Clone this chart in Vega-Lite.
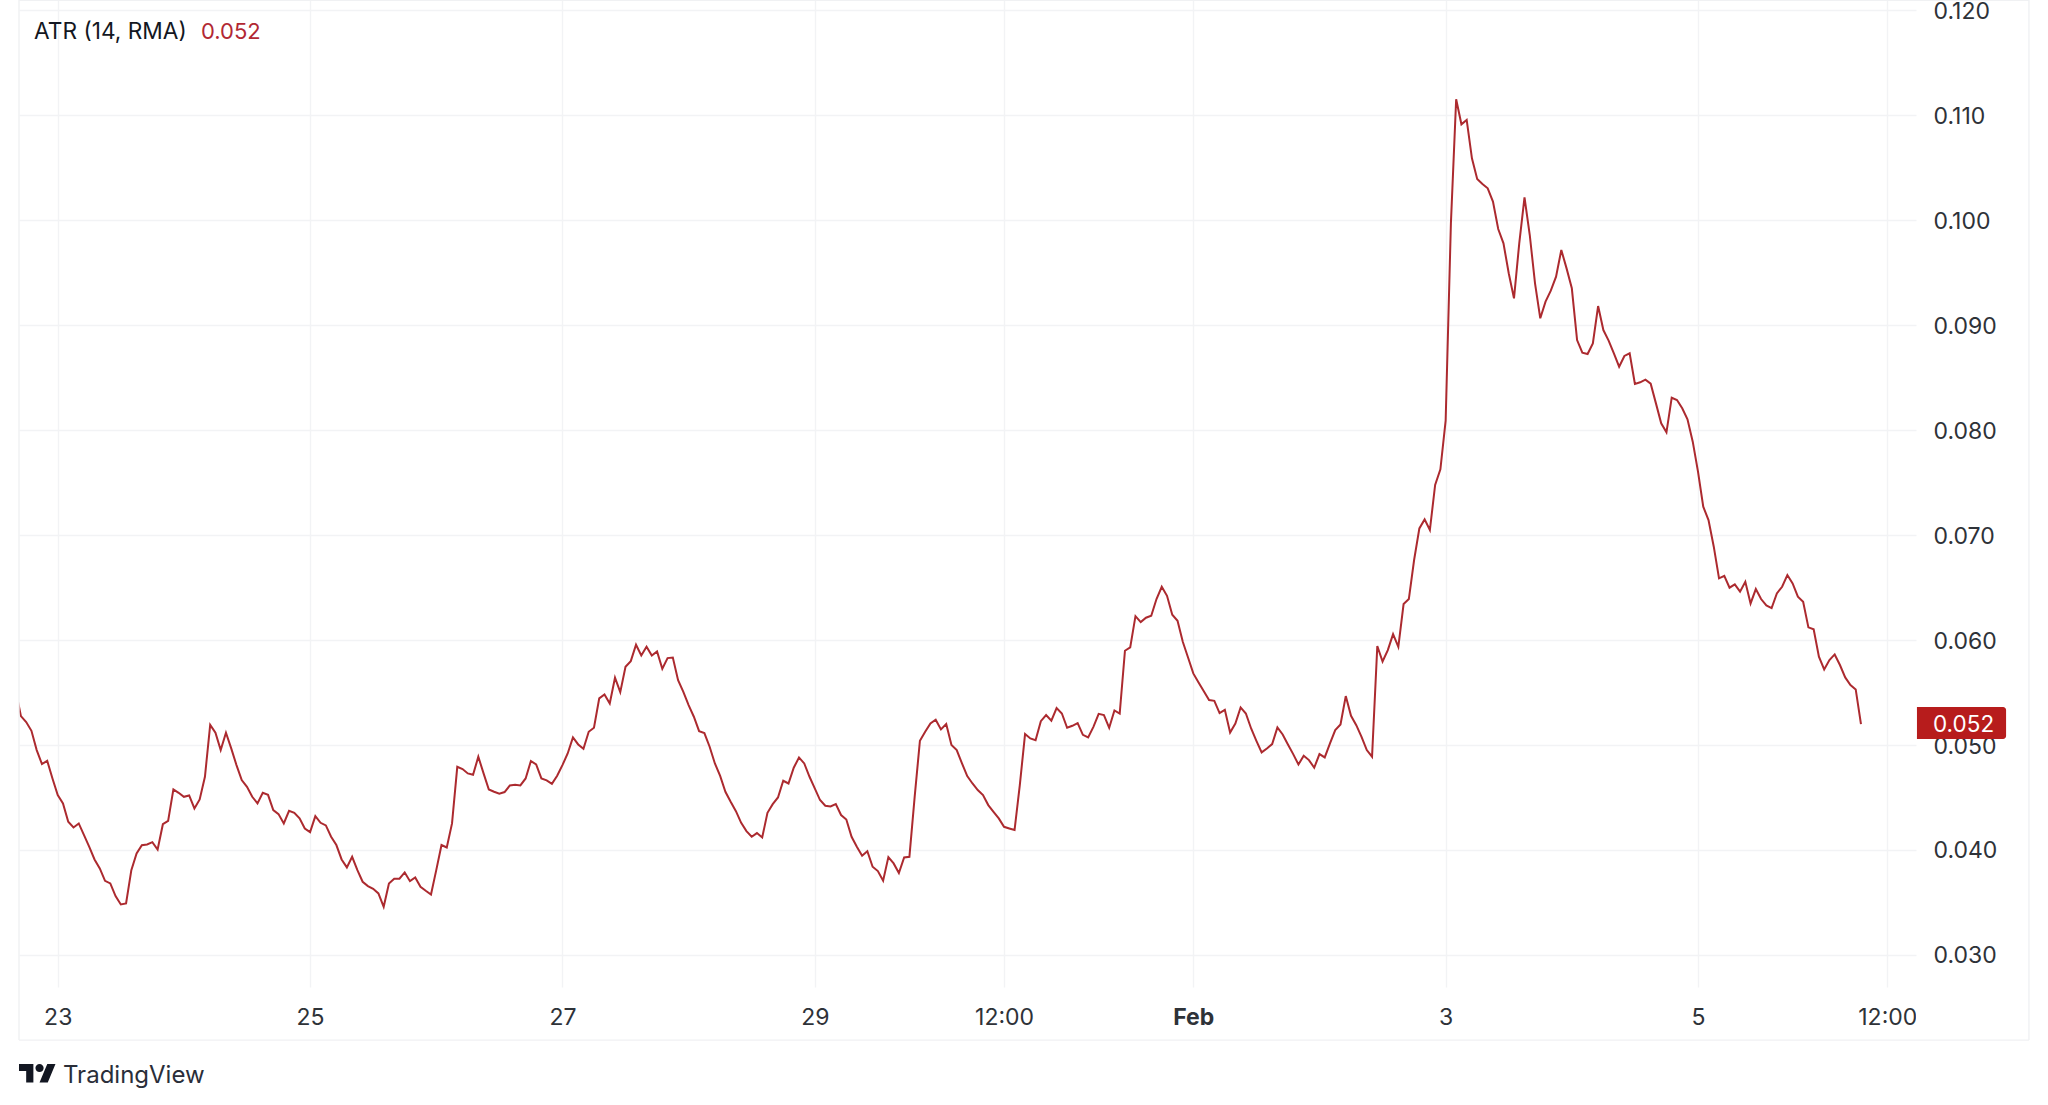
{
  "$schema": "https://vega.github.io/schema/vega-lite/v6.json",
  "autosize": "none",
  "padding": {"left": 19, "top": 0, "right": 132, "bottom": 118},
  "width": 1897,
  "height": 987,
  "background": "#ffffff",
  "config": {"view": {"stroke": null}, "font": "Inter"},
  "encoding": {
    "x": {
      "field": "t",
      "type": "temporal",
      "title": null,
      "scale": {"type": "utc", "domain": ["2024-01-22T16:38Z", "2024-02-06T17:28Z"]},
      "axis": {
        "values": ["2024-01-23T00:00Z", "2024-01-25T00:00Z", "2024-01-27T00:00Z", "2024-01-29T00:00Z", "2024-01-30T12:00Z", "2024-02-01T00:00Z", "2024-02-03T00:00Z", "2024-02-05T00:00Z", "2024-02-06T12:00Z"],
        "labelExpr": "utchours(datum.value) == 12 ? '12:00' : utcdate(datum.value) == 1 ? 'Feb' : utcFormat(datum.value, '%-d')",
        "labelFontWeight": {"condition": {"test": "utcdate(datum.value) == 1", "value": 700}, "value": 400},
        "labelFont": "Inter",
        "labelFontSize": 23,
        "labelColor": "#2e3238",
        "labelPadding": 19,
        "labelOverlap": false,
        "labelBound": false,
        "labelFlush": false,
        "ticks": false,
        "domain": false,
        "grid": true,
        "gridColor": "#f2f3f5",
        "gridWidth": 1.4
      }
    },
    "y": {
      "field": "v",
      "type": "quantitative",
      "title": null,
      "scale": {"domain": [0.02691, 0.12099], "nice": false, "zero": false},
      "axis": {
        "orient": "right",
        "values": [0.03, 0.04, 0.05, 0.06, 0.07, 0.08, 0.09, 0.1, 0.11, 0.12],
        "format": ".3f",
        "labelFont": "Inter",
        "labelFontSize": 23,
        "labelColor": "#2e3238",
        "labelPadding": 17,
        "labelOffset": 1.3,
        "labelOverlap": false,
        "labelBound": false,
        "labelFlush": false,
        "ticks": false,
        "domain": false,
        "grid": true,
        "gridColor": "#f2f3f5",
        "gridWidth": 1.4
      }
    }
  },
  "layer": [
    {
      "data": {"values": [
        {"t":"2024-01-22T16:00Z","v":0.0552},{"t":"2024-01-22T17:00Z","v":0.05273},{"t":"2024-01-22T18:00Z","v":0.05216},{"t":"2024-01-22T19:00Z","v":0.05133},{"t":"2024-01-22T20:00Z","v":0.04949},{"t":"2024-01-22T21:00Z","v":0.04816},{"t":"2024-01-22T22:00Z","v":0.04847},{"t":"2024-01-22T23:00Z","v":0.04679},
        {"t":"2024-01-23T00:00Z","v":0.0452},{"t":"2024-01-23T01:00Z","v":0.04441},{"t":"2024-01-23T02:00Z","v":0.04266},{"t":"2024-01-23T03:00Z","v":0.04212},{"t":"2024-01-23T04:00Z","v":0.0425},{"t":"2024-01-23T05:00Z","v":0.04139},{"t":"2024-01-23T06:00Z","v":0.04027},{"t":"2024-01-23T07:00Z","v":0.03907},{"t":"2024-01-23T08:00Z","v":0.03821},{"t":"2024-01-23T09:00Z","v":0.03703},{"t":"2024-01-23T10:00Z","v":0.03678},{"t":"2024-01-23T11:00Z","v":0.03557},{"t":"2024-01-23T12:00Z","v":0.03478},{"t":"2024-01-23T13:00Z","v":0.03487},{"t":"2024-01-23T14:00Z","v":0.03805},{"t":"2024-01-23T15:00Z","v":0.03964},{"t":"2024-01-23T16:00Z","v":0.04043},{"t":"2024-01-23T17:00Z","v":0.0405},{"t":"2024-01-23T18:00Z","v":0.04072},{"t":"2024-01-23T19:00Z","v":0.04002},{"t":"2024-01-23T20:00Z","v":0.04243},{"t":"2024-01-23T21:00Z","v":0.04275},{"t":"2024-01-23T22:00Z","v":0.04574},{"t":"2024-01-23T23:00Z","v":0.04542},
        {"t":"2024-01-24T00:00Z","v":0.04504},{"t":"2024-01-24T01:00Z","v":0.04517},{"t":"2024-01-24T02:00Z","v":0.04393},{"t":"2024-01-24T03:00Z","v":0.04479},{"t":"2024-01-24T04:00Z","v":0.04695},{"t":"2024-01-24T05:00Z","v":0.0519},{"t":"2024-01-24T06:00Z","v":0.05114},{"t":"2024-01-24T07:00Z","v":0.04949},{"t":"2024-01-24T08:00Z","v":0.05114},{"t":"2024-01-24T09:00Z","v":0.04965},{"t":"2024-01-24T10:00Z","v":0.04806},{"t":"2024-01-24T11:00Z","v":0.04663},{"t":"2024-01-24T12:00Z","v":0.04599},{"t":"2024-01-24T13:00Z","v":0.04504},{"t":"2024-01-24T14:00Z","v":0.04441},{"t":"2024-01-24T15:00Z","v":0.04542},{"t":"2024-01-24T16:00Z","v":0.04523},{"t":"2024-01-24T17:00Z","v":0.04377},{"t":"2024-01-24T18:00Z","v":0.04339},{"t":"2024-01-24T19:00Z","v":0.0425},{"t":"2024-01-24T20:00Z","v":0.04371},{"t":"2024-01-24T21:00Z","v":0.04352},{"t":"2024-01-24T22:00Z","v":0.04298},{"t":"2024-01-24T23:00Z","v":0.04202},
        {"t":"2024-01-25T00:00Z","v":0.04167},{"t":"2024-01-25T01:00Z","v":0.0432},{"t":"2024-01-25T02:00Z","v":0.04256},{"t":"2024-01-25T03:00Z","v":0.04231},{"t":"2024-01-25T04:00Z","v":0.04123},{"t":"2024-01-25T05:00Z","v":0.04044},{"t":"2024-01-25T06:00Z","v":0.03907},{"t":"2024-01-25T07:00Z","v":0.03831},{"t":"2024-01-25T08:00Z","v":0.03932},{"t":"2024-01-25T09:00Z","v":0.03805},{"t":"2024-01-25T10:00Z","v":0.03694},{"t":"2024-01-25T11:00Z","v":0.03653},{"t":"2024-01-25T12:00Z","v":0.03627},{"t":"2024-01-25T13:00Z","v":0.03583},{"t":"2024-01-25T14:00Z","v":0.03456},{"t":"2024-01-25T15:00Z","v":0.03678},{"t":"2024-01-25T16:00Z","v":0.03723},{"t":"2024-01-25T17:00Z","v":0.03723},{"t":"2024-01-25T18:00Z","v":0.03783},{"t":"2024-01-25T19:00Z","v":0.037},{"t":"2024-01-25T20:00Z","v":0.03735},{"t":"2024-01-25T21:00Z","v":0.03646},{"t":"2024-01-25T22:00Z","v":0.03608},{"t":"2024-01-25T23:00Z","v":0.03573},
        {"t":"2024-01-26T00:00Z","v":0.03805},{"t":"2024-01-26T01:00Z","v":0.04044},{"t":"2024-01-26T02:00Z","v":0.04021},{"t":"2024-01-26T03:00Z","v":0.0425},{"t":"2024-01-26T04:00Z","v":0.0479},{"t":"2024-01-26T05:00Z","v":0.04768},{"t":"2024-01-26T06:00Z","v":0.04727},{"t":"2024-01-26T07:00Z","v":0.04714},{"t":"2024-01-26T08:00Z","v":0.04886},{"t":"2024-01-26T09:00Z","v":0.04727},{"t":"2024-01-26T10:00Z","v":0.04574},{"t":"2024-01-26T11:00Z","v":0.04552},{"t":"2024-01-26T12:00Z","v":0.04533},{"t":"2024-01-26T13:00Z","v":0.04549},{"t":"2024-01-26T14:00Z","v":0.04612},{"t":"2024-01-26T15:00Z","v":0.04619},{"t":"2024-01-26T16:00Z","v":0.04612},{"t":"2024-01-26T17:00Z","v":0.04679},{"t":"2024-01-26T18:00Z","v":0.04845},{"t":"2024-01-26T19:00Z","v":0.04812},{"t":"2024-01-26T20:00Z","v":0.04679},{"t":"2024-01-26T21:00Z","v":0.0466},{"t":"2024-01-26T22:00Z","v":0.04628},{"t":"2024-01-26T23:00Z","v":0.04704},
        {"t":"2024-01-27T00:00Z","v":0.04806},{"t":"2024-01-27T01:00Z","v":0.04917},{"t":"2024-01-27T02:00Z","v":0.0507},{"t":"2024-01-27T03:00Z","v":0.05003},{"t":"2024-01-27T04:00Z","v":0.04962},{"t":"2024-01-27T05:00Z","v":0.05124},{"t":"2024-01-27T06:00Z","v":0.05162},{"t":"2024-01-27T07:00Z","v":0.05442},{"t":"2024-01-27T08:00Z","v":0.0548},{"t":"2024-01-27T09:00Z","v":0.05394},{"t":"2024-01-27T10:00Z","v":0.05639},{"t":"2024-01-27T11:00Z","v":0.05502},{"t":"2024-01-27T12:00Z","v":0.05743},{"t":"2024-01-27T13:00Z","v":0.05797},{"t":"2024-01-27T14:00Z","v":0.05953},{"t":"2024-01-27T15:00Z","v":0.05851},{"t":"2024-01-27T16:00Z","v":0.05934},{"t":"2024-01-27T17:00Z","v":0.05851},{"t":"2024-01-27T18:00Z","v":0.0589},{"t":"2024-01-27T19:00Z","v":0.05724},{"t":"2024-01-27T20:00Z","v":0.05826},{"t":"2024-01-27T21:00Z","v":0.05832},{"t":"2024-01-27T22:00Z","v":0.05616},{"t":"2024-01-27T23:00Z","v":0.05505},
        {"t":"2024-01-28T00:00Z","v":0.05378},{"t":"2024-01-28T01:00Z","v":0.05267},{"t":"2024-01-28T02:00Z","v":0.0513},{"t":"2024-01-28T03:00Z","v":0.05111},{"t":"2024-01-28T04:00Z","v":0.04981},{"t":"2024-01-28T05:00Z","v":0.04822},{"t":"2024-01-28T06:00Z","v":0.04704},{"t":"2024-01-28T07:00Z","v":0.04552},{"t":"2024-01-28T08:00Z","v":0.04456},{"t":"2024-01-28T09:00Z","v":0.04367},{"t":"2024-01-28T10:00Z","v":0.04256},{"t":"2024-01-28T11:00Z","v":0.04177},{"t":"2024-01-28T12:00Z","v":0.04123},{"t":"2024-01-28T13:00Z","v":0.04158},{"t":"2024-01-28T14:00Z","v":0.04116},{"t":"2024-01-28T15:00Z","v":0.04351},{"t":"2024-01-28T16:00Z","v":0.04434},{"t":"2024-01-28T17:00Z","v":0.04498},{"t":"2024-01-28T18:00Z","v":0.04657},{"t":"2024-01-28T19:00Z","v":0.04631},{"t":"2024-01-28T20:00Z","v":0.04781},{"t":"2024-01-28T21:00Z","v":0.04879},{"t":"2024-01-28T22:00Z","v":0.04822},{"t":"2024-01-28T23:00Z","v":0.04695},
        {"t":"2024-01-29T00:00Z","v":0.04584},{"t":"2024-01-29T01:00Z","v":0.04473},{"t":"2024-01-29T02:00Z","v":0.04419},{"t":"2024-01-29T03:00Z","v":0.04412},{"t":"2024-01-29T04:00Z","v":0.04434},{"t":"2024-01-29T05:00Z","v":0.0433},{"t":"2024-01-29T06:00Z","v":0.04288},{"t":"2024-01-29T07:00Z","v":0.04123},{"t":"2024-01-29T08:00Z","v":0.04028},{"t":"2024-01-29T09:00Z","v":0.03942},{"t":"2024-01-29T10:00Z","v":0.03986},{"t":"2024-01-29T11:00Z","v":0.03837},{"t":"2024-01-29T12:00Z","v":0.03796},{"t":"2024-01-29T13:00Z","v":0.03704},{"t":"2024-01-29T14:00Z","v":0.03929},{"t":"2024-01-29T15:00Z","v":0.03869},{"t":"2024-01-29T16:00Z","v":0.03777},{"t":"2024-01-29T17:00Z","v":0.03926},{"t":"2024-01-29T18:00Z","v":0.03932},{"t":"2024-01-29T19:00Z","v":0.04504},{"t":"2024-01-29T20:00Z","v":0.05038},{"t":"2024-01-29T21:00Z","v":0.05124},{"t":"2024-01-29T22:00Z","v":0.05204},{"t":"2024-01-29T23:00Z","v":0.05238},
        {"t":"2024-01-30T00:00Z","v":0.05146},{"t":"2024-01-30T01:00Z","v":0.05197},{"t":"2024-01-30T02:00Z","v":0.04997},{"t":"2024-01-30T03:00Z","v":0.04949},{"t":"2024-01-30T04:00Z","v":0.04822},{"t":"2024-01-30T05:00Z","v":0.04701},{"t":"2024-01-30T06:00Z","v":0.04631},{"t":"2024-01-30T07:00Z","v":0.04568},{"t":"2024-01-30T08:00Z","v":0.0452},{"t":"2024-01-30T09:00Z","v":0.04425},{"t":"2024-01-30T10:00Z","v":0.04361},{"t":"2024-01-30T11:00Z","v":0.04298},{"t":"2024-01-30T12:00Z","v":0.04218},{"t":"2024-01-30T13:00Z","v":0.04202},{"t":"2024-01-30T14:00Z","v":0.04187},{"t":"2024-01-30T15:00Z","v":0.04616},{"t":"2024-01-30T16:00Z","v":0.05102},{"t":"2024-01-30T17:00Z","v":0.0506},{"t":"2024-01-30T18:00Z","v":0.05044},{"t":"2024-01-30T19:00Z","v":0.05225},{"t":"2024-01-30T20:00Z","v":0.05283},{"t":"2024-01-30T21:00Z","v":0.05229},{"t":"2024-01-30T22:00Z","v":0.05349},{"t":"2024-01-30T23:00Z","v":0.05298},
        {"t":"2024-01-31T00:00Z","v":0.05162},{"t":"2024-01-31T01:00Z","v":0.05181},{"t":"2024-01-31T02:00Z","v":0.05206},{"t":"2024-01-31T03:00Z","v":0.05095},{"t":"2024-01-31T04:00Z","v":0.0507},{"t":"2024-01-31T05:00Z","v":0.05171},{"t":"2024-01-31T06:00Z","v":0.05295},{"t":"2024-01-31T07:00Z","v":0.05283},{"t":"2024-01-31T08:00Z","v":0.05162},{"t":"2024-01-31T09:00Z","v":0.05327},{"t":"2024-01-31T10:00Z","v":0.05298},{"t":"2024-01-31T11:00Z","v":0.05896},{"t":"2024-01-31T12:00Z","v":0.05928},{"t":"2024-01-31T13:00Z","v":0.06226},{"t":"2024-01-31T14:00Z","v":0.06169},{"t":"2024-01-31T15:00Z","v":0.06211},{"t":"2024-01-31T16:00Z","v":0.0623},{"t":"2024-01-31T17:00Z","v":0.06389},{"t":"2024-01-31T18:00Z","v":0.06506},{"t":"2024-01-31T19:00Z","v":0.0642},{"t":"2024-01-31T20:00Z","v":0.06239},{"t":"2024-01-31T21:00Z","v":0.06182},{"t":"2024-01-31T22:00Z","v":0.05982},{"t":"2024-01-31T23:00Z","v":0.05832},
        {"t":"2024-02-01T00:00Z","v":0.0568},{"t":"2024-02-01T01:00Z","v":0.05594},{"t":"2024-02-01T02:00Z","v":0.05511},{"t":"2024-02-01T03:00Z","v":0.05426},{"t":"2024-02-01T04:00Z","v":0.05419},{"t":"2024-02-01T05:00Z","v":0.05302},{"t":"2024-02-01T06:00Z","v":0.05333},{"t":"2024-02-01T07:00Z","v":0.05117},{"t":"2024-02-01T08:00Z","v":0.05203},{"t":"2024-02-01T09:00Z","v":0.05356},{"t":"2024-02-01T10:00Z","v":0.05298},{"t":"2024-02-01T11:00Z","v":0.05155},{"t":"2024-02-01T12:00Z","v":0.05038},{"t":"2024-02-01T13:00Z","v":0.04927},{"t":"2024-02-01T14:00Z","v":0.04965},{"t":"2024-02-01T15:00Z","v":0.05006},{"t":"2024-02-01T16:00Z","v":0.05165},{"t":"2024-02-01T17:00Z","v":0.05098},{"t":"2024-02-01T18:00Z","v":0.05003},{"t":"2024-02-01T19:00Z","v":0.04911},{"t":"2024-02-01T20:00Z","v":0.04812},{"t":"2024-02-01T21:00Z","v":0.04895},{"t":"2024-02-01T22:00Z","v":0.04854},{"t":"2024-02-01T23:00Z","v":0.04781},
        {"t":"2024-02-02T00:00Z","v":0.04911},{"t":"2024-02-02T01:00Z","v":0.04879},{"t":"2024-02-02T02:00Z","v":0.05013},{"t":"2024-02-02T03:00Z","v":0.0514},{"t":"2024-02-02T04:00Z","v":0.05194},{"t":"2024-02-02T05:00Z","v":0.05464},{"t":"2024-02-02T06:00Z","v":0.05276},{"t":"2024-02-02T07:00Z","v":0.05187},{"t":"2024-02-02T08:00Z","v":0.05076},{"t":"2024-02-02T09:00Z","v":0.04949},{"t":"2024-02-02T10:00Z","v":0.04886},{"t":"2024-02-02T11:00Z","v":0.05941},{"t":"2024-02-02T12:00Z","v":0.05794},{"t":"2024-02-02T13:00Z","v":0.05902},{"t":"2024-02-02T14:00Z","v":0.06055},{"t":"2024-02-02T15:00Z","v":0.05934},{"t":"2024-02-02T16:00Z","v":0.06341},{"t":"2024-02-02T17:00Z","v":0.06389},{"t":"2024-02-02T18:00Z","v":0.06761},{"t":"2024-02-02T19:00Z","v":0.07062},{"t":"2024-02-02T20:00Z","v":0.07148},{"t":"2024-02-02T21:00Z","v":0.07047},{"t":"2024-02-02T22:00Z","v":0.07476},{"t":"2024-02-02T23:00Z","v":0.07625},
        {"t":"2024-02-03T00:00Z","v":0.0809},{"t":"2024-02-03T01:00Z","v":0.0997},{"t":"2024-02-03T02:00Z","v":0.11153},{"t":"2024-02-03T03:00Z","v":0.10914},{"t":"2024-02-03T04:00Z","v":0.10956},{"t":"2024-02-03T05:00Z","v":0.1059},{"t":"2024-02-03T06:00Z","v":0.10393},{"t":"2024-02-03T07:00Z","v":0.10345},{"t":"2024-02-03T08:00Z","v":0.10304},{"t":"2024-02-03T09:00Z","v":0.10177},{"t":"2024-02-03T10:00Z","v":0.09916},{"t":"2024-02-03T11:00Z","v":0.0978},{"t":"2024-02-03T12:00Z","v":0.09494},{"t":"2024-02-03T13:00Z","v":0.09255},{"t":"2024-02-03T14:00Z","v":0.0978},{"t":"2024-02-03T15:00Z","v":0.10218},{"t":"2024-02-03T16:00Z","v":0.09859},{"t":"2024-02-03T17:00Z","v":0.09398},{"t":"2024-02-03T18:00Z","v":0.09065},{"t":"2024-02-03T19:00Z","v":0.09224},{"t":"2024-02-03T20:00Z","v":0.09328},{"t":"2024-02-03T21:00Z","v":0.09462},{"t":"2024-02-03T22:00Z","v":0.09716},{"t":"2024-02-03T23:00Z","v":0.09541},
        {"t":"2024-02-04T00:00Z","v":0.09351},{"t":"2024-02-04T01:00Z","v":0.08858},{"t":"2024-02-04T02:00Z","v":0.08737},{"t":"2024-02-04T03:00Z","v":0.08725},{"t":"2024-02-04T04:00Z","v":0.08826},{"t":"2024-02-04T05:00Z","v":0.09182},{"t":"2024-02-04T06:00Z","v":0.08953},{"t":"2024-02-04T07:00Z","v":0.08852},{"t":"2024-02-04T08:00Z","v":0.08731},{"t":"2024-02-04T09:00Z","v":0.08604},{"t":"2024-02-04T10:00Z","v":0.08706},{"t":"2024-02-04T11:00Z","v":0.08731},{"t":"2024-02-04T12:00Z","v":0.08439},{"t":"2024-02-04T13:00Z","v":0.08455},{"t":"2024-02-04T14:00Z","v":0.0848},{"t":"2024-02-04T15:00Z","v":0.08442},{"t":"2024-02-04T16:00Z","v":0.08254},{"t":"2024-02-04T17:00Z","v":0.08064},{"t":"2024-02-04T18:00Z","v":0.07978},{"t":"2024-02-04T19:00Z","v":0.08308},{"t":"2024-02-04T20:00Z","v":0.08286},{"t":"2024-02-04T21:00Z","v":0.08207},{"t":"2024-02-04T22:00Z","v":0.08102},{"t":"2024-02-04T23:00Z","v":0.07889},
        {"t":"2024-02-05T00:00Z","v":0.07603},{"t":"2024-02-05T01:00Z","v":0.07269},{"t":"2024-02-05T02:00Z","v":0.07142},{"t":"2024-02-05T03:00Z","v":0.06888},{"t":"2024-02-05T04:00Z","v":0.06586},{"t":"2024-02-05T05:00Z","v":0.06611},{"t":"2024-02-05T06:00Z","v":0.06497},{"t":"2024-02-05T07:00Z","v":0.06529},{"t":"2024-02-05T08:00Z","v":0.06459},{"t":"2024-02-05T09:00Z","v":0.06554},{"t":"2024-02-05T10:00Z","v":0.06347},{"t":"2024-02-05T11:00Z","v":0.06484},{"t":"2024-02-05T12:00Z","v":0.06389},{"t":"2024-02-05T13:00Z","v":0.06328},{"t":"2024-02-05T14:00Z","v":0.06303},{"t":"2024-02-05T15:00Z","v":0.06443},{"t":"2024-02-05T16:00Z","v":0.06506},{"t":"2024-02-05T17:00Z","v":0.06618},{"t":"2024-02-05T18:00Z","v":0.06538},{"t":"2024-02-05T19:00Z","v":0.06411},{"t":"2024-02-05T20:00Z","v":0.06363},{"t":"2024-02-05T21:00Z","v":0.06119},{"t":"2024-02-05T22:00Z","v":0.061},{"t":"2024-02-05T23:00Z","v":0.05839},
        {"t":"2024-02-06T00:00Z","v":0.05718},{"t":"2024-02-06T01:00Z","v":0.05807},{"t":"2024-02-06T02:00Z","v":0.05861},{"t":"2024-02-06T03:00Z","v":0.0576},{"t":"2024-02-06T04:00Z","v":0.05642},{"t":"2024-02-06T05:00Z","v":0.05569},{"t":"2024-02-06T06:00Z","v":0.05527},{"t":"2024-02-06T07:00Z","v":0.05197}
      ]},
      "mark": {"type": "line", "color": "#ac2a2f", "strokeWidth": 2, "clip": true}
    },
    {
      "data": {
        "values": [
          {"t":"2024-01-22T16:38Z","t2":"2024-01-22T16:38Z","v":0.12099,"v2":0.02185},
          {"t":"2024-02-07T14:57Z","t2":"2024-02-07T14:57Z","v":0.12099,"v2":0.02185},
          {"t":"2024-01-22T16:38Z","t2":"2024-02-07T14:57Z","v":0.12095,"v2":0.12095},
          {"t":"2024-01-22T16:38Z","t2":"2024-02-07T14:57Z","v":0.02185,"v2":0.02185}
        ],
        "format": {"parse": {"t": "date", "t2": "date"}}
      },
      "mark": {"type": "rule", "color": "#f0f1f3", "strokeWidth": 1.4, "clip": false},
      "encoding": {"x2": {"field": "t2"}, "y2": {"field": "v2"}}
    },
    {
      "data": {
        "values": [{"t":"2024-02-06T17:28Z","t2":"2024-02-06T19:10Z","v":0.02614,"v2":0.0228}],
        "format": {"parse": {"t": "date", "t2": "date"}}
      },
      "mark": {"type": "rect", "color": "#ffffff", "clip": false},
      "encoding": {"x2": {"field": "t2"}, "y2": {"field": "v2"}}
    },
    {
      "data": {
        "values": [{"t":"2024-02-06T17:39Z","t2":"2024-02-07T10:36Z","v":0.05359,"v2":0.05054}],
        "format": {"parse": {"t": "date", "t2": "date"}}
      },
      "mark": {"type": "rect", "color": "#b71c1c", "cornerRadiusTopRight": 3, "cornerRadiusBottomRight": 3, "clip": false},
      "encoding": {"x2": {"field": "t2"}, "y2": {"field": "v2"}}
    },
    {
      "data": {"values": [{"t":"2024-02-06T20:42Z","v":0.0519,"label":"0.052"}]},
      "mark": {"type": "text", "font": "Inter", "fontSize": 22.5, "color": "#ffffff", "align": "left", "baseline": "middle", "clip": false},
      "encoding": {"text": {"field": "label"}}
    },
    {
      "data": {"values": [{"t":"2024-01-22T19:30Z","v":0.11794,"label":"ATR (14, RMA)"}]},
      "mark": {"type": "text", "font": "Inter", "fontSize": 22.7, "color": "#131722", "align": "left", "baseline": "middle", "clip": false},
      "encoding": {"text": {"field": "label"}}
    },
    {
      "data": {"values": [{"t":"2024-01-24T03:15Z","v":0.11794,"label":"0.052"}]},
      "mark": {"type": "text", "font": "Inter", "fontSize": 22, "color": "#b22833", "align": "left", "baseline": "middle", "clip": false},
      "encoding": {"text": {"field": "label"}}
    },
    {
      "data": {"values": [{"t":"2024-01-23T01:00Z","v":0.01841,"label":"TradingView"}]},
      "mark": {"type": "text", "font": "Inter", "fontSize": 24, "color": "#2a2e39", "align": "left", "baseline": "middle", "clip": false},
      "encoding": {"text": {"field": "label"}}
    },
    {
      "data": {"values": [{"t":"2024-01-22T20:09Z","v":0.0187}]},
      "mark": {
        "type": "point",
        "filled": true,
        "opacity": 1,
        "color": "#131722",
        "size": 1369,
        "clip": false,
        "shape": "M-.222 .5H-.611V-.111H-1V-.5H-.222ZM.556 .5H.111L.528 -.5H.972ZM.333 -.278A.222 .222 0 1 1 -.111 -.278A.222 .222 0 1 1 .333 -.278Z"
      }
    }
  ]
}
